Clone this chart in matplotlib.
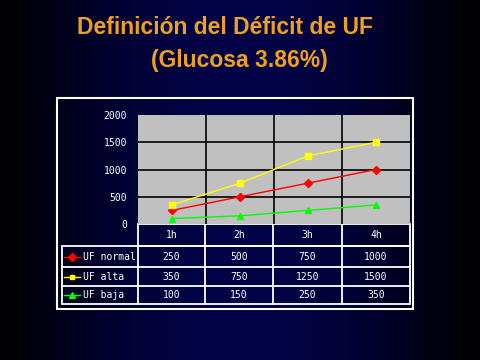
import numpy as np
import matplotlib.pyplot as plt
from matplotlib.patches import Rectangle

# === data ===
categories = ["1h", "2h", "3h", "4h"]
series_names = ["UF normal", "UF alta", "UF baja"]
uf_normal = [250, 500, 750, 1000]
uf_alta = [350, 750, 1250, 1500]
uf_baja = [100, 150, 250, 350]
y_ticks = [0, 500, 1000, 1500, 2000]

series = [uf_normal, uf_alta, uf_baja]
colors = ["#ff0000", "#ffff00", "#00ff00"]
markers = ["D", "s", "^"]
msizes = [4.5, 4, 5]

W, H = 480, 360
fig = plt.figure(figsize=(W / 100, H / 100), dpi=100)

# background: dark navy, fading to black at the sides
bg = fig.add_axes([0, 0, 1, 1])
xs = np.linspace(-1, 1, W)
prof = np.clip(1 - np.abs(xs) ** 2.0, 0, 1) ** 1.2
navy = np.array([2, 3, 70]) / 255.0
img = prof[None, :, None] * navy[None, None, :]
img = np.repeat(img, 10, axis=0)
bg.imshow(img, aspect="auto", extent=[0, W, H, 0])
bg.set_xlim(0, W)
bg.set_ylim(H, 0)
bg.axis("off")

# title
title_col = "#f0a020"
bg.text(225, 28, "Definición del Déficit de UF", color=title_col, fontsize=16.5,
        fontweight="bold", family="Liberation Sans", ha="center", va="center")
bg.text(239, 61, "(Glucosa 3.86%)", color=title_col, fontsize=16.5,
        fontweight="bold", family="Liberation Sans", ha="center", va="center")

# outer frame
bg.add_patch(Rectangle((57, 98), 356, 211, fill=False, ec="white", lw=1.5))

# plot area
px0, px1, py0, py1 = 138, 410, 115, 224
ax = fig.add_axes([px0 / W, 1 - py1 / H, (px1 - px0) / W, (py1 - py0) / H])
ax.set_facecolor("#c0c0c0")
ax.set_xlim(0, len(categories))
ax.set_ylim(0, 2000)
for yv in y_ticks[1:-1]:
    ax.axhline(yv, color="black", lw=1.2, zorder=1)
for k in range(1, len(categories)):
    ax.axvline(k, color="black", lw=1.2, zorder=1)
xpos = np.arange(len(categories)) + 0.5
for vals, c, m, ms in zip(series, colors, markers, msizes):
    ax.plot(xpos, vals, color=c, lw=1, marker=m, ms=ms, mec=c, mfc=c, zorder=3)
ax.set_xticks([])
ax.set_yticks(y_ticks)
ax.set_yticklabels([str(v) for v in y_ticks], color="white", fontsize=7,
                   family="DejaVu Sans Mono")
ax.tick_params(axis="y", length=0, pad=8)
for s in ax.spines.values():
    s.set_visible(False)

# data table
col_edges = [138, 205, 273, 342, 410]
row_edges = [224, 246, 267, 286, 304]
lab_x0 = 62
tkw = dict(color="white", fontsize=7, family="DejaVu Sans Mono", va="center")
# header row
bg.add_patch(Rectangle((col_edges[0], row_edges[0]), col_edges[-1] - col_edges[0],
                       row_edges[1] - row_edges[0], fill=False, ec="white", lw=1.3))
for k in range(1, len(categories)):
    bg.plot([col_edges[k]] * 2, [row_edges[0], row_edges[-1]], color="white", lw=1.3)
for k, cat in enumerate(categories):
    bg.text((col_edges[k] + col_edges[k + 1]) / 2, (row_edges[0] + row_edges[1]) / 2,
            cat, ha="center", **tkw)
# body rows
bg.add_patch(Rectangle((lab_x0, row_edges[1]), col_edges[-1] - lab_x0,
                       row_edges[-1] - row_edges[1], fill=False, ec="white", lw=1.3))
bg.plot([col_edges[0]] * 2, [row_edges[1], row_edges[-1]], color="white", lw=1.3)
for r in range(2, len(row_edges) - 1):
    bg.plot([lab_x0, col_edges[-1]], [row_edges[r]] * 2, color="white", lw=1.3)
for i, (name, vals, c, m, ms) in enumerate(zip(series_names, series, colors, markers, msizes)):
    yc = (row_edges[i + 1] + row_edges[i + 2]) / 2
    bg.plot([64, 80], [yc, yc], color=c, lw=1)
    bg.plot([72], [yc], marker=m, color=c, ms=ms - 0.5)
    bg.text(83, yc, name, ha="left", **tkw)
    for k, v in enumerate(vals):
        bg.text((col_edges[k] + col_edges[k + 1]) / 2, yc, str(v), ha="center", **tkw)

fig.savefig("out.png", dpi=100)
